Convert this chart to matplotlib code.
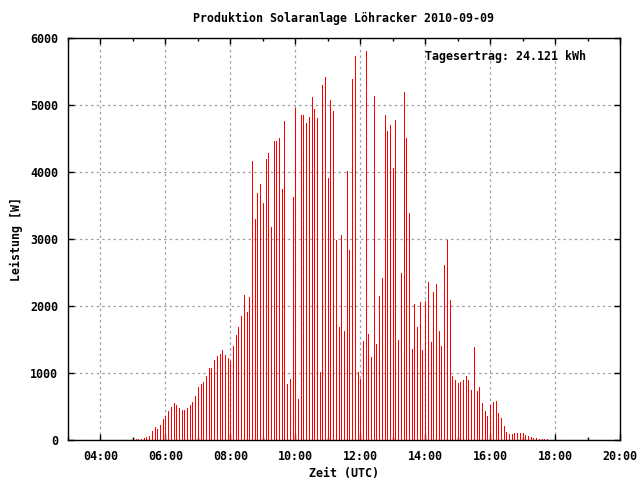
#!/usr/bin/env python3
"""Tagesproduktion Solaranlage Löhracker, 2010-09-09, gnuplot-style impulses."""
import numpy as np
import matplotlib
matplotlib.use("Agg")
import matplotlib.pyplot as plt
from matplotlib.ticker import MultipleLocator, FuncFormatter

plt.rcParams.update({
    "font.family": ["DejaVu Sans Mono", "DejaVu Sans"],
    "font.size": 8.4,
    "font.weight": "bold",
    "axes.linewidth": 1.0,
})

TITLE = "Produktion Solaranlage Löhracker 2010-09-09"
TOTAL = "Tagesertrag: 24.121 kWh"

# first sample 05:05 UTC, one sample every 5 minutes
START_H = 5 + 5 / 60
STEP_MIN = 5

# Leistung [W]
power = [
    15, 15, 15, 35, 50, 65, 140, 195, 165, 225,
    315, 360, 435, 495, 550, 520, 480, 450, 450, 480,
    520, 565, 655, 790, 835, 865, 955, 1075, 1075, 1195,
    1254, 1284, 1343, 1269, 1224, 1179, 1403, 1567, 1687, 1851,
    2164, 1910, 2134, 4164, 3299, 3687, 3821, 3537, 4194, 4284,
    3179, 4463, 4463, 4507, 3746, 4761, 836, 910, 3627, 4955,
    612, 4851, 4851, 4731, 4821, 5119, 4940, 4806, 1015, 5299,
    5418, 3910, 5075, 4910, 2985, 1687, 3060, 1627, 4015, 2836,
    5388, 5731, 1015, 910, 1478, 5806, 1582, 1239, 5134, 1433,
    2149, 2418, 4851, 4612, 4701, 4060, 4776, 1493, 2493, 5194,
    4507, 3388, 1358, 2030, 1687, 2060, 1343, 2075, 2358, 1463,
    2209, 2328, 1627, 1403, 2612, 2985, 2090, 955, 896, 851,
    866, 896, 955, 896, 746, 1388, 731, 791, 552, 433,
    358, 522, 567, 582, 403, 328, 209, 119, 90, 90,
    104, 104, 104, 104, 75, 60, 45, 30, 30, 15,
    15, 15, 15,
]

hours = START_H + np.arange(len(power)) * STEP_MIN / 60


def main():
    fig = plt.figure(figsize=(6.4, 4.8), dpi=100)
    ax = fig.add_axes([68 / 640, 40 / 480, 552 / 640, 402 / 480])

    ax.vlines(hours, 0, power, colors="#ff0000", lw=0.55, antialiased=False,
              zorder=3)

    ax.set_xlim(3, 20)
    ax.set_ylim(0, 6000)
    ax.xaxis.set_major_locator(MultipleLocator(2))
    ax.xaxis.set_minor_locator(MultipleLocator(1))
    ax.yaxis.set_major_locator(MultipleLocator(1000))
    ax.xaxis.set_major_formatter(FuncFormatter(lambda v, p: f"{int(v):02d}:00"))
    ax.tick_params(which="both", direction="in", top=True, right=True,
                   labelsize=8.4, pad=7, color="black")
    ax.tick_params(which="major", length=4.5, width=1)
    ax.tick_params(which="minor", length=2.5, width=1)
    ax.grid(True, which="major", color="#a0a0a0", ls=(0, (2, 2.5)), lw=0.9,
            zorder=1)

    for lab in ax.get_xticklabels() + ax.get_yticklabels():
        lab.set_fontweight("bold")

    ax.set_xlabel("Zeit (UTC)", fontweight="bold", labelpad=3)
    ax.set_ylabel("Leistung [W]", fontweight="bold", labelpad=5)
    fig.text(0.536, 0.9625, TITLE, ha="center", va="center",
             fontweight="bold")
    ax.text(0.647, 0.955, TOTAL, transform=ax.transAxes, ha="left",
            va="center", fontweight="bold", zorder=4)

    fig.savefig("out.png", dpi=100)
    plt.close(fig)


if __name__ == "__main__":
    main()
